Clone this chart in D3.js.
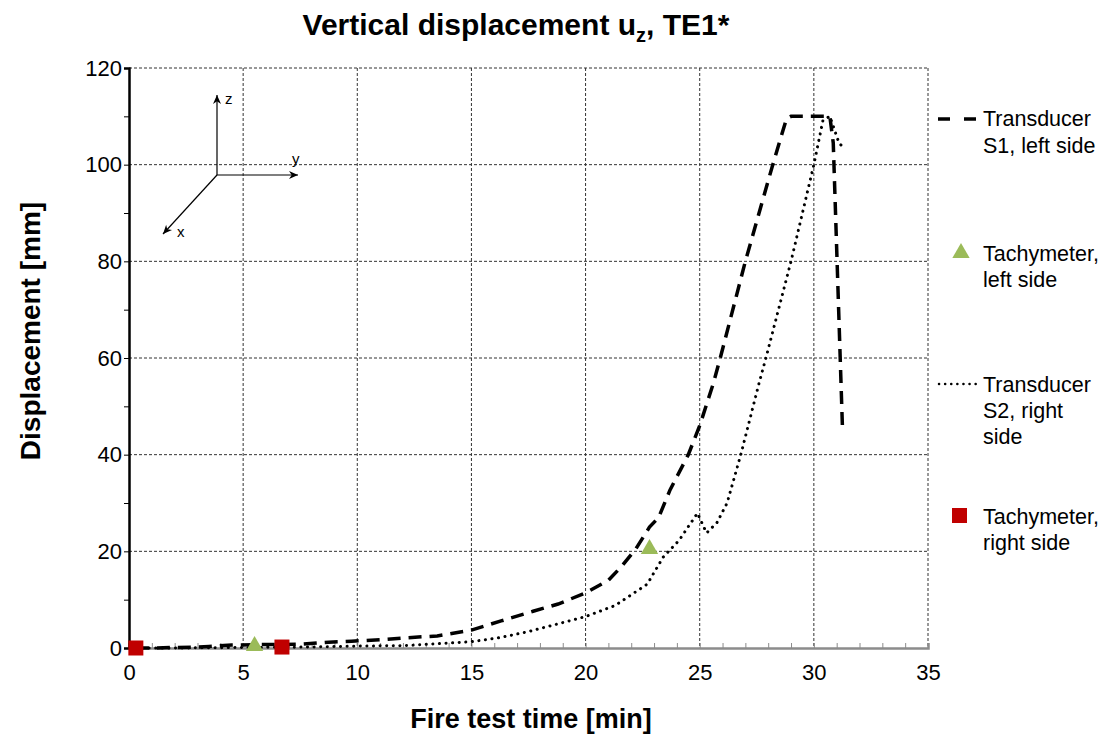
<!DOCTYPE html>
<html><head><meta charset="utf-8">
<script src="https://cdn.jsdelivr.net/npm/d3@7"></script>
<style>body{margin:0;background:#fff;} text{font-family:"Liberation Sans",Arial,sans-serif;}</style>
</head><body>
<svg id="c" width="1108" height="738"></svg>
<script>
// ---- data ----
const s1Time = [0.3, 1, 2, 3, 3.5, 4.5, 5.5, 6.5, 7.6, 8.75, 9.75, 11, 12.1, 13.5, 15, 16.3, 17.7, 18.8, 20, 21, 21.6, 22.2, 22.8, 23.2, 23.7, 24.5, 25.0, 25.6, 25.9, 27.0, 28.2, 28.8, 29.0, 30.7, 30.85, 31.25];
const s1Disp = [0, 0, 0.1, 0.2, 0.3, 0.6, 0.7, 0.7, 0.8, 1.2, 1.4, 1.7, 2.1, 2.5, 3.7, 5.6, 7.6, 9.1, 11.4, 14, 17, 20.5, 25, 27, 32.7, 40, 46, 54.8, 60, 80, 100, 109.5, 110, 110, 104.5, 46];
const s2Time = [0.3, 2, 5, 8, 10, 12.1, 15, 16.3, 17.5, 18.8, 20, 21.3, 22.7, 23.4, 24.1, 24.9, 25.3, 25.75, 26.2, 26.8, 27.6, 27.9, 29.0, 30.0, 30.4, 30.7, 31.1, 31.2];
const s2Disp = [0, 0, 0.1, 0.2, 0.4, 0.5, 1.3, 2.2, 3.4, 5, 6.5, 8.8, 13.2, 18.8, 22.3, 27.9, 23.8, 25.9, 30, 40, 54.8, 60, 80, 100, 109.2, 110, 104.5, 104];
const tachyLeftTime = [5.5, 22.8];
const tachyLeftDisp = [0.2, 20.3];
const tachyRightTime = [0.3, 6.7];
const tachyRightDisp = [0, 0.2];
const xTicks = [0, 5, 10, 15, 20, 25, 30, 35];
const yTicks = [0, 20, 40, 60, 80, 100, 120];
const legendLabels = [["Transducer", "S1, left side"], ["Tachymeter,", "left side"], ["Transducer", "S2, right", "side"], ["Tachymeter,", "right side"]];

// ---- layout ----
const svg = d3.select("#c");
const L = 129, R = 928, T = 68, B = 648;
const x = d3.scaleLinear().domain([0, 35]).range([L, R]);
const y = d3.scaleLinear().domain([0, 120]).range([B, T]);
const FONT = "Liberation Sans, Arial, sans-serif";

// grid
const grid = svg.append("g");
grid.selectAll(".gx").data(xTicks.slice(1)).join("line")
  .attr("x1", d => x(d)).attr("x2", d => x(d)).attr("y1", T).attr("y2", B)
  .attr("stroke", "#333").attr("stroke-width", 1).attr("stroke-dasharray", "3,2");
grid.selectAll(".gy").data(yTicks.slice(1)).join("line")
  .attr("x1", L).attr("x2", R).attr("y1", d => y(d)).attr("y2", d => y(d))
  .attr("stroke", "#333").attr("stroke-width", 1).attr("stroke-dasharray", "3,2");

// x axis (grey, minor ticks inside)
const xa = svg.append("g").attr("transform", `translate(0,${B})`)
  .call(d3.axisTop(x).ticks(35).tickSize(5).tickFormat(""));
xa.select(".domain").attr("stroke", "#8c8c8c").attr("stroke-width", 2.5);
xa.selectAll(".tick line").attr("stroke", "#8c8c8c").attr("stroke-width", 1);
const xl = svg.append("g").attr("transform", `translate(0,${B})`)
  .call(d3.axisBottom(x).tickValues(xTicks).tickSize(0).tickPadding(16));
xl.select(".domain").remove();
xl.selectAll("text").attr("font-size", 22).attr("fill", "#000").attr("font-family", FONT);

// y axis (black, minor ticks outside)
const ya = svg.append("g").attr("transform", `translate(${L},0)`)
  .call(d3.axisLeft(y).ticks(12).tickSize(5).tickFormat(""));
ya.select(".domain").attr("stroke", "#000").attr("stroke-width", 2.5);
ya.selectAll(".tick line").attr("stroke", "#000");
const yl = svg.append("g").attr("transform", `translate(${L},0)`)
  .call(d3.axisLeft(y).tickValues(yTicks).tickSize(0).tickPadding(7));
yl.select(".domain").remove();
yl.selectAll("text").attr("font-size", 22).attr("fill", "#000").attr("font-family", FONT);

// lines
const line = d3.line().x(d => x(d[0])).y(d => y(d[1]));
const s1 = s1Time.map((t, i) => [t, s1Disp[i]]);
const s2 = s2Time.map((t, i) => [t, s2Disp[i]]);
svg.append("path").datum(s2).attr("d", line).attr("fill", "none")
  .attr("stroke", "#000").attr("stroke-width", 3).attr("stroke-linecap", "round").attr("stroke-dasharray", "0.1,6.5");
svg.append("path").datum(s1).attr("d", line).attr("fill", "none")
  .attr("stroke", "#000").attr("stroke-width", 3.5).attr("stroke-dasharray", "13,8");

// markers
const tri = d3.symbol().type(d3.symbolTriangle).size(130);
svg.selectAll(".tl").data(tachyLeftTime.map((t, i) => [t, tachyLeftDisp[i]])).join("path")
  .attr("d", tri).attr("transform", d => `translate(${x(d[0])},${y(d[1]) - 1})`).attr("fill", "#9bbb59");
svg.selectAll(".tr").data(tachyRightTime.map((t, i) => [t, tachyRightDisp[i]])).join("rect")
  .attr("x", d => x(d[0]) - 7.5).attr("y", d => y(d[1]) - 7.5).attr("width", 15).attr("height", 15).attr("fill", "#c00000");

// coordinate system sketch
const cs = svg.append("g").attr("stroke", "#000").attr("stroke-width", 1.2);
const ox = 217, oy = 175;
function arrow(x2, y2) {
  cs.append("line").attr("x1", ox).attr("y1", oy).attr("x2", x2).attr("y2", y2);
  const a = Math.atan2(y2 - oy, x2 - ox), h = 9, w = 4;
  const p = [[x2, y2], [x2 - h * Math.cos(a) + w * Math.sin(a), y2 - h * Math.sin(a) - w * Math.cos(a)], [x2 - h * 0.7 * Math.cos(a), y2 - h * 0.7 * Math.sin(a)], [x2 - h * Math.cos(a) - w * Math.sin(a), y2 - h * Math.sin(a) + w * Math.cos(a)]];
  cs.append("path").attr("d", "M" + p.join("L") + "Z").attr("fill", "#000").attr("stroke", "none");
}
arrow(217, 95); arrow(298, 175); arrow(163, 234);
const ct = svg.append("g").attr("font-size", 15).attr("fill", "#000");
ct.append("text").attr("x", 225).attr("y", 104).text("z");
ct.append("text").attr("x", 292).attr("y", 164).text("y");
ct.append("text").attr("x", 177).attr("y", 237).text("x");

// legend
const lg = svg.append("g");
const lx = 983;
const lyStart = [[118, 145], [253, 279], [384, 410, 436], [516, 542]];
legendLabels.forEach((lines, i) => {
  lines.forEach((s, j) => {
    lg.append("text").attr("x", lx).attr("y", lyStart[i][j]).attr("dy", "0.35em")
      .attr("font-size", 21.5).attr("fill", "#000").text(s);
  });
});
lg.append("line").attr("x1", 938).attr("x2", 976).attr("y1", 119).attr("y2", 119)
  .attr("stroke", "#000").attr("stroke-width", 3.5).attr("stroke-dasharray", "12,14");
lg.append("path").attr("d", tri).attr("transform", "translate(961,253)").attr("fill", "#9bbb59");
lg.append("line").attr("x1", 939).attr("x2", 976).attr("y1", 384).attr("y2", 384)
  .attr("stroke", "#000").attr("stroke-width", 2.5).attr("stroke-linecap", "round").attr("stroke-dasharray", "0.1,6");
lg.append("rect").attr("x", 952).attr("y", 508).attr("width", 15).attr("height", 15).attr("fill", "#c00000");

// titles
const title = svg.append("text").attr("x", 516).attr("y", 35).attr("text-anchor", "middle")
  .attr("font-size", 30).attr("font-weight", "bold").attr("fill", "#000");
title.append("tspan").text("Vertical displacement u");
title.append("tspan").attr("font-size", 20).attr("dy", 7).text("z");
title.append("tspan").attr("dy", -7).text(", TE1*");
svg.append("text").attr("x", 531).attr("y", 728).attr("text-anchor", "middle")
  .attr("font-size", 27).attr("font-weight", "bold").text("Fire test time [min]");
svg.append("text").attr("transform", "translate(40,331) rotate(-90)").attr("text-anchor", "middle")
  .attr("font-size", 28).attr("font-weight", "bold").text("Displacement [mm]");
</script>
</body></html>
